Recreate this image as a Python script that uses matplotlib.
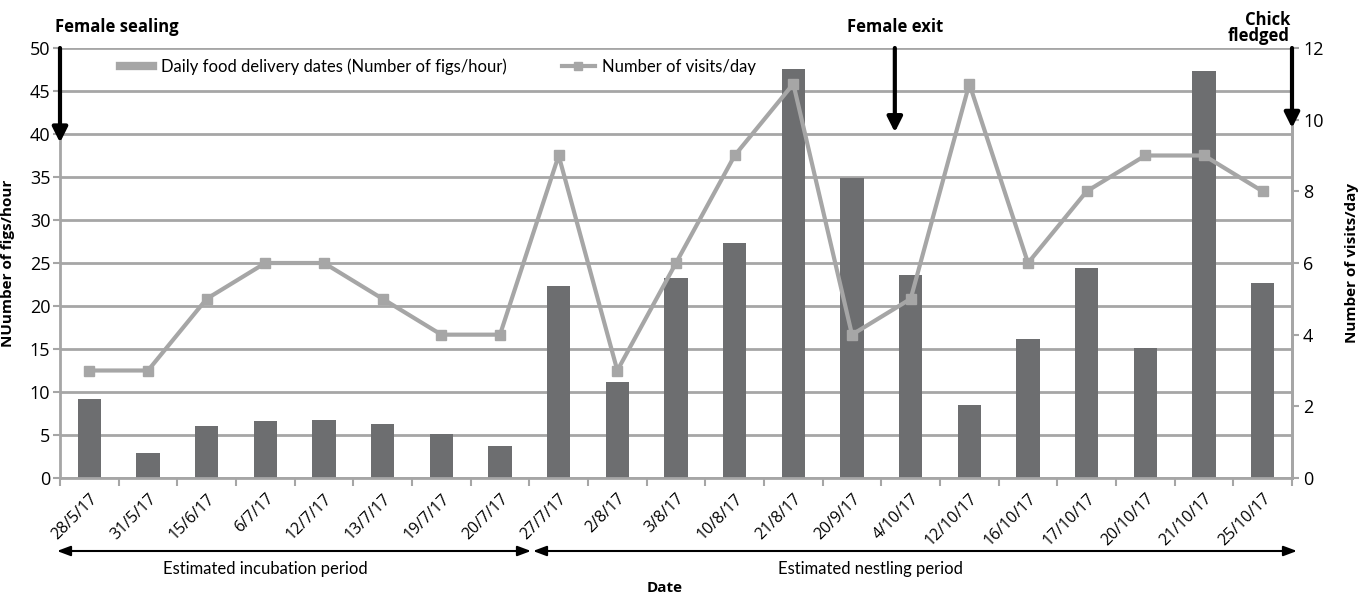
import matplotlib
matplotlib.use("Agg")
import matplotlib.pyplot as plt
from matplotlib.lines import Line2D
from matplotlib.patches import FancyArrowPatch
import matplotlib.transforms as mtransforms
import numpy as np

dates = ["28/5/17", "31/5/17", "15/6/17", "6/7/17", "12/7/17", "13/7/17", "19/7/17", "20/7/17",
         "27/7/17", "2/8/17", "3/8/17", "10/8/17", "21/8/17", "20/9/17", "4/10/17", "12/10/17",
         "16/10/17", "17/10/17", "20/10/17", "21/10/17", "25/10/17"]
figs_per_hour = [9.2, 2.9, 6.0, 6.6, 6.7, 6.3, 5.1, 3.7, 22.3, 11.2, 23.3, 27.3, 47.5, 34.9,
                 23.6, 8.5, 16.2, 24.4, 15.1, 47.3, 22.7]
visits_per_day = [3, 3, 5, 6, 6, 5, 4, 4, 9, 3, 6, 9, 11, 4, 5, 11, 6, 8, 9, 9, 8]

base = ['Open Sans', 'DejaVu Sans']
narrow = ['Lato', 'DejaVu Sans']
plt.rcParams['font.family'] = base

BAR = '#6d6e70'
LINE = '#a6a6a6'
GRID = '#a6a6a6'

W, H = 1362, 597
fig = plt.figure(figsize=(W / 100, H / 100), dpi=100)
ax = fig.add_axes([60 / W, 119 / H, 1232 / W, 430 / H])
x = np.arange(len(dates))
ax.bar(x, figs_per_hour, width=0.4, color=BAR, zorder=2)
ax.set_xlim(-0.5, len(dates) - 0.5)
ax.set_ylim(0, 50)
ax.set_yticks(np.arange(0, 51, 5))
ax.yaxis.grid(True, color=GRID, linewidth=2, zorder=0)
ax.set_axisbelow(True)
ax.set_xticks(np.arange(-0.5, len(dates), 1.0))
ax.set_xticklabels([])
ax.set_xticks(x, minor=True)
ax.set_xticklabels(dates, minor=True, rotation=45, ha='right', rotation_mode='anchor', fontsize=11.5)
offset = mtransforms.ScaledTranslation(6 / 100, 0, fig.dpi_scale_trans)
for lab in ax.xaxis.get_minorticklabels():
    lab.set_transform(lab.get_transform() + offset)
ax.tick_params(axis='x', which='major', length=6, width=1.5, color=GRID)
ax.tick_params(axis='x', which='minor', length=0, pad=9)
ax.tick_params(axis='y', length=5, width=1.5, color=GRID, labelsize=13, pad=2)
ax.spines['top'].set_visible(False)
for s in ['left', 'right', 'bottom']:
    ax.spines[s].set_color(GRID)
    ax.spines[s].set_linewidth(2)
ax.set_ylabel('NUumber of figs/hour', fontweight='bold', fontsize=11)
ax.yaxis.set_label_coords((15 - 60) / 1232, 0.5)

ax2 = ax.twinx()
ax2.plot(x, visits_per_day, color=LINE, linewidth=3, marker='s', markersize=7, zorder=3)
ax2.set_ylim(0, 12)
ax2.set_yticks(np.arange(0, 13, 2))
ax2.tick_params(axis='y', length=5, width=1.5, color=GRID, labelsize=13, pad=3)
for s in ['top', 'left', 'bottom']:
    ax2.spines[s].set_visible(False)
ax2.spines['right'].set_color(GRID)
ax2.spines['right'].set_linewidth(2)
ax2.set_ylabel('Number of visits/day', fontweight='bold', fontsize=11)
ax2.yaxis.set_label_coords((1345 - 60) / 1232, 0.5)

handles = [Line2D([], [], color=LINE, lw=6),
           Line2D([], [], color=LINE, lw=3, marker='s', markersize=6)]
labels = ['Daily food delivery dates (Number of figs/hour)', 'Number of visits/day']
leg = fig.legend(handles, labels, loc='center left', bbox_to_anchor=(120 / W, 1 - 67 / H), ncol=2,
                 frameon=False, prop={'family': narrow, 'size': 12}, columnspacing=3.3,
                 handlelength=2.0, handletextpad=0.45, borderaxespad=0, borderpad=0)

# event arrows (drawn at figure level so they sit on top of the spines)
def event_arrow(xd, y_end):
    arr = FancyArrowPatch((xd, 50), (xd, y_end), transform=ax.transData,
                          arrowstyle='-|>,head_width=0.45,head_length=0.9',
                          color='black', lw=3, mutation_scale=10, shrinkA=0, shrinkB=0,
                          zorder=5)
    arr.set_clip_on(False)
    fig.add_artist(arr)

event_arrow(-0.5, 39)
event_arrow(13.73, 40.2)
event_arrow(20.5, 40.7)
fig.text(55 / W, 1 - 27 / H, 'Female sealing', fontweight='bold', fontsize=12,
         ha='left', va='center')
fig.text(895 / W, 1 - 27 / H, 'Female exit', fontweight='bold', fontsize=12,
         ha='center', va='center')
fig.text(1290 / W, 1 - 28 / H, 'Chick\nfledged', fontweight='bold', fontsize=12,
         ha='right', va='center', linespacing=0.8)

# period arrows
y_arr = 1 - 551 / H
dbl = dict(arrowstyle='<|-|>,head_width=0.3,head_length=0.8', color='black', lw=1.5,
           mutation_scale=10, shrinkA=0, shrinkB=0, transform=fig.transFigure)
fig.add_artist(FancyArrowPatch((57 / W, y_arr), (531 / W, y_arr), **dbl))
fig.add_artist(FancyArrowPatch((533 / W, y_arr), (1297 / W, y_arr), **dbl))
fig.text(265 / W, 1 - 569 / H, 'Estimated incubation period', family=narrow, fontsize=12,
         ha='center', va='center')
fig.text(870 / W, 1 - 569 / H, 'Estimated nestling period', family=narrow, fontsize=12,
         ha='center', va='center')
fig.text(665 / W, 1 - 588 / H, 'Date', fontweight='bold', fontsize=11,
         ha='center', va='center')

fig.savefig('out.png', dpi=100)
